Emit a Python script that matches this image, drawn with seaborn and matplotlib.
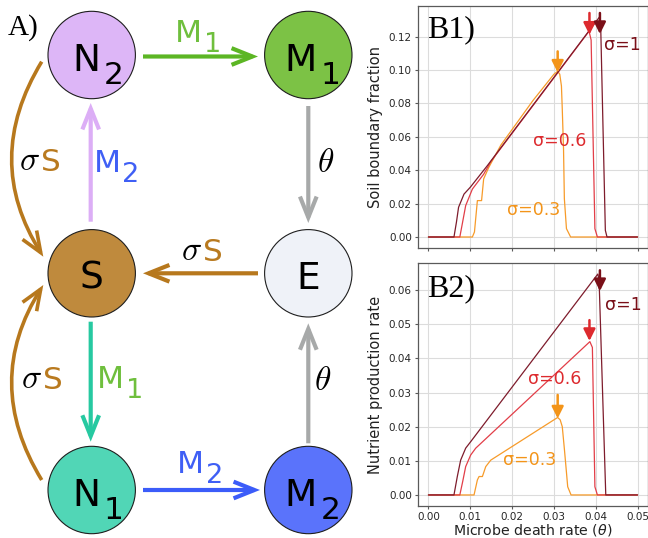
import numpy as np
import pandas as pd
import matplotlib
matplotlib.use("Agg")
import matplotlib.pyplot as plt
from matplotlib.patches import Circle, FancyArrowPatch
import seaborn as sns

# ---------------------------------------------------------------------------
# Model output: soil boundary fraction and nutrient production rate as a
# function of the microbe death rate theta, for three values of sigma.
# ---------------------------------------------------------------------------
sigma_levels = ["0.3", "0.6", "1"]

theta_soil_s03 = [0.000, 0.0105, 0.0110, 0.0117, 0.0127, 0.0132, 0.0144, 0.0173,
                  0.0250, 0.0300, 0.0309, 0.0314, 0.0318, 0.0320, 0.0323, 0.0325,
                  0.0330, 0.0340, 0.050]
soil_s03 = [0.0, 0.0, 0.0030, 0.0218, 0.0218, 0.0348, 0.0416, 0.0550,
            0.0818, 0.0975, 0.0993, 0.0975, 0.0905, 0.0766, 0.0527, 0.0229,
            0.0050, 0.0, 0.0]

theta_soil_s06 = [0.000, 0.0075, 0.0081, 0.0089, 0.0095, 0.0105, 0.0132, 0.0150,
                  0.0384, 0.0389, 0.0398, 0.0404, 0.050]
soil_s06 = [0.0, 0.0, 0.0080, 0.0188, 0.0225, 0.0287, 0.0376, 0.0455,
            0.1233, 0.1180, 0.0050, 0.0, 0.0]

theta_soil_s1 = [0.000, 0.0061, 0.0067, 0.0072, 0.0085, 0.0100, 0.0141, 0.0409,
                 0.0412, 0.0423, 0.0427, 0.050]
soil_s1 = [0.0, 0.0, 0.0090, 0.0178, 0.0257, 0.0298, 0.0428, 0.1318,
           0.1250, 0.0040, 0.0, 0.0]

theta_nut_s03 = [0.000, 0.0109, 0.0117, 0.0121, 0.0129, 0.0137, 0.0149, 0.0309,
                 0.0315, 0.0320, 0.0325, 0.0329, 0.0333, 0.0341, 0.050]
nut_s03 = [0.0, 0.0, 0.0044, 0.0054, 0.0054, 0.0083, 0.0102, 0.0227,
           0.0220, 0.0200, 0.0135, 0.0080, 0.0024, 0.0, 0.0]

theta_nut_s06 = [0.000, 0.0075, 0.0082, 0.0089, 0.0101, 0.0113, 0.0386, 0.0392,
                 0.0398, 0.0404, 0.050]
nut_s06 = [0.0, 0.0, 0.0040, 0.0083, 0.0117, 0.0137, 0.0449, 0.0432,
           0.0024, 0.0, 0.0]

theta_nut_s1 = [0.000, 0.0061, 0.0069, 0.0077, 0.0089, 0.0101, 0.0405, 0.0408,
                0.0424, 0.050]
nut_s1 = [0.0, 0.0, 0.0054, 0.0102, 0.0137, 0.0156, 0.0647, 0.0630,
          0.0, 0.0]

# collapse points marked by arrows: (theta, arrow tail, arrow tip)
soil_marks = {"0.3": (0.0309, 0.1112, 0.0985),
              "0.6": (0.0385, 0.1342, 0.1212),
              "1": (0.0410, 0.1342, 0.1216)}
nut_marks = {"0.3": (0.0309, 0.0293, 0.0224),
             "0.6": (0.0385, 0.0512, 0.0451),
             "1": (0.0410, 0.0658, 0.0597)}

# sigma annotation anchors (theta, value)
soil_text = {"0.3": (0.0189, 0.0163), "0.6": (0.0251, 0.0573), "1": (0.0419, 0.1150)}
nut_text = {"0.3": (0.0179, 0.0102), "0.6": (0.0239, 0.0341), "1": (0.0423, 0.0556)}

line_colors = {"0.3": "#f79b2a", "0.6": "#e23e48", "1": "#7e1c2c"}
text_colors = {"0.3": "#f39419", "0.6": "#dd2a2e", "1": "#7a0f18"}


def long_frame(thetas, values):
    parts = []
    for s, t, v in zip(sigma_levels, thetas, values):
        parts.append(pd.DataFrame({"theta": t, "value": v, "sigma": s}))
    return pd.concat(parts, ignore_index=True)


soil_df = long_frame([theta_soil_s03, theta_soil_s06, theta_soil_s1],
                     [soil_s03, soil_s06, soil_s1])
nut_df = long_frame([theta_nut_s03, theta_nut_s06, theta_nut_s1],
                    [nut_s03, nut_s06, nut_s1])

# ---------------------------------------------------------------------------
sns.set_style("whitegrid", {
    "axes.edgecolor": "#5a5a5a",
    "grid.color": "#dcdcdc",
    "xtick.bottom": True,
    "ytick.left": True,
    "xtick.color": "#5a5a5a",
    "ytick.color": "#5a5a5a",
})
plt.rcParams["font.family"] = ["DejaVu Sans"]
plt.rcParams["xtick.major.size"] = 2.5
plt.rcParams["ytick.major.size"] = 2.5
plt.rcParams["xtick.major.pad"] = 2.0
plt.rcParams["ytick.major.pad"] = 2.0
plt.rcParams["axes.linewidth"] = 0.9
plt.rcParams["grid.linewidth"] = 0.8

W, H = 648, 538
fig = plt.figure(figsize=(W / 100, H / 100), dpi=100)


def fig_box(left, top, right, bottom):
    return [left / W, 1 - bottom / H, (right - left) / W, (bottom - top) / H]


ax1 = fig.add_axes(fig_box(418, 6, 648, 248))
ax2 = fig.add_axes(fig_box(418, 263, 648, 506), sharex=ax1)

for ax, df, marks, texts, ylabel in [
    (ax1, soil_df, soil_marks, soil_text, "Soil boundary fraction"),
    (ax2, nut_df, nut_marks, nut_text, "Nutrient production rate"),
]:
    sns.lineplot(data=df, x="theta", y="value", hue="sigma", hue_order=sigma_levels,
                 palette=line_colors, estimator=None, sort=False, linewidth=0.9,
                 legend=False, ax=ax)
    for s in sigma_levels:
        th, tail, tip = marks[s]
        ax.annotate("", xy=(th, tip), xytext=(th, tail),
                    arrowprops=dict(arrowstyle="-|>,head_length=0.5,head_width=0.25",
                                    mutation_scale=14, lw=1.8, color=text_colors[s],
                                    shrinkA=0, shrinkB=0))
        tx, ty = texts[s]
        ax.text(tx, ty, f"σ={s}", color=text_colors[s], fontsize=12.5,
                ha="left", va="center")
    ax.set_ylabel(ylabel, fontsize=10.5, color="#222222")
    ax.tick_params(labelsize=7.5, labelcolor="#262626")
    ax.set_xticks([0.0, 0.01, 0.02, 0.03, 0.04, 0.05])

ax1.set_xlabel("")
ax1.tick_params(labelbottom=False)
ax2.set_xlabel(r"Microbe death rate ($\theta$)", fontsize=10.2, color="#222222",
               labelpad=0)

# ---------------------------------------------------------------------------
# Panel A: flow diagram between soil, nutrients, microbes and environment
# ---------------------------------------------------------------------------
axa = fig.add_axes([0, 0, 360 / W, 1])
axa.set_xlim(0, 360)
axa.set_ylim(H, 0)
axa.axis("off")

R = 43.7
node_main = ["N", "M", "S", "E", "N", "M"]
node_sub = ["2", "1", "", "", "1", "2"]
node_colors = ["#ddb6f7", "#7cc245", "#bf8a3d", "#eff2f8", "#51d6b6", "#5a73fb"]
node_pos = [(91.7, 55), (308.3, 55), (91.7, 273.3), (308.3, 273.3),
            (91.7, 490), (308.3, 490)]

for (cx, cy), main, sub, col in zip(node_pos, node_main, node_sub, node_colors):
    axa.add_patch(Circle((cx, cy), R, facecolor=col, edgecolor="#1e1e1e", lw=0.8,
                         zorder=3))
    if sub:
        dx = -19 if main == "N" else -23.5
        axa.text(cx + dx, cy + 16, main, fontsize=27, ha="left", va="baseline",
                 color="black", zorder=4)
        axa.text(cx + 12, cy + 29, sub, fontsize=22.5, ha="left", va="baseline",
                 color="black", zorder=4)
    else:
        axa.text(cx, cy + 15.5, main, fontsize=27, ha="center", va="baseline",
                 color="black", zorder=4)

GREEN, PURPLE, GREY = "#5cb624", "#dcaef6", "#a7a9a9"
BROWN, TEAL, BLUE = "#b7781d", "#27c9a1", "#3b5cf9"
HEAD = "->,head_length=0.75,head_width=0.3"


def arrow(p, q, color, lw=3.0, rad=0.0):
    axa.add_patch(FancyArrowPatch(p, q, arrowstyle=HEAD, mutation_scale=20,
                                  connectionstyle=f"arc3,rad={rad}", lw=lw,
                                  color=color, shrinkA=0, shrinkB=0,
                                  joinstyle="miter", capstyle="butt", zorder=2))


arrow((143, 56.5), (258, 56.5), GREEN)
arrow((90.7, 221.7), (90.7, 103), PURPLE)
arrow((308.3, 106), (308.3, 223), GREY)
arrow((258, 273.3), (143, 273.3), BROWN)
arrow((90.7, 321.7), (90.7, 441.7), TEAL)
arrow((143, 490), (260, 490), BLUE)
arrow((308.3, 443.3), (308.3, 323.3), GREY)
arrow((41.7, 61.7), (43.3, 256.7), BROWN, lw=2.6, rad=0.31)
arrow((41.7, 480), (43.3, 285), BROWN, lw=2.6, rad=-0.31)


def m_label(x, y, sub, color):
    axa.text(x, y, "M", fontsize=22.5, ha="left", va="baseline", color=color)
    axa.text(x + 29, y + 10, sub, fontsize=19.5, ha="left", va="baseline",
             color=color)


M1C, M2C = "#6fbf3d", "#3f5ff5"
m_label(175, 41.7, "1", M1C)
m_label(93.5, 171.5, "2", M2C)
m_label(97, 388.3, "1", M1C)
m_label(177, 473.3, "2", M2C)


def sigma_s(x, y):
    axa.text(x, y, r"$\sigma$", fontsize=24, math_fontfamily="cm", ha="left",
             va="baseline", color="black")
    axa.text(x + 22, y + 1, "S", fontsize=22.5, ha="left", va="baseline",
             color="#b97a1f")


sigma_s(19, 170)
sigma_s(181, 260)
sigma_s(21, 388)
for tx, ty in [(317, 172), (314, 390)]:
    axa.text(tx, ty, r"$\theta$", fontsize=24, math_fontfamily="cm", ha="left",
             va="baseline", color="black")

# panel tags
serif = ["Liberation Serif", "DejaVu Serif"]
fig.text(8 / W, 1 - 35 / H, "A)", fontsize=21, family=serif, va="baseline",
         color="black")
fig.text(427 / W, 1 - 37 / H, "B1)", fontsize=23, family=serif, va="baseline",
         color="black")
fig.text(427 / W, 1 - 296.7 / H, "B2)", fontsize=23, family=serif, va="baseline",
         color="black")

fig.savefig("out.png", dpi=100)
